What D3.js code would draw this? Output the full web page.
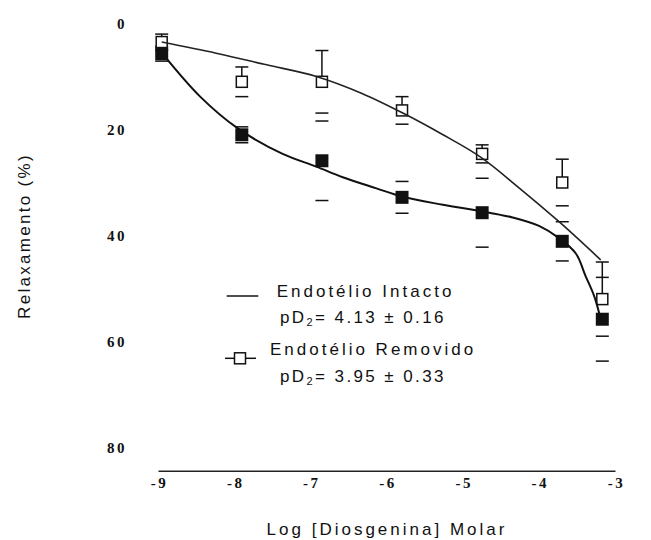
<!DOCTYPE html>
<html>
<head>
<meta charset="utf-8">
<script src="https://cdn.jsdelivr.net/npm/d3@7"></script>
<style>
  body { margin: 0; background: #fff; }
  svg { display: block; }
  .tick-label { font-family: "Liberation Serif", "Times New Roman", serif; font-weight: bold; font-size: 15px; letter-spacing: 2.5px; fill: #111; }
  .label { font-family: "Liberation Sans", Arial, sans-serif; font-size: 17px; fill: #111; }
</style>
</head>
<body>
<svg id="chart" width="651" height="540"></svg>
<script>
// Log molar concentration of diosgenin
const logConc = [-9, -8, -7, -6, -5, -4, -3.5];

// Relaxation (%) mean and SEM, intact endothelium
const intactMean = [5.7, 21.0, 25.9, 32.8, 35.7, 41.1, 55.8];
const intactSem  = [1.4, 1.5, 7.5, 3.0, 6.5, 3.7, 7.9];

// Relaxation (%) mean and SEM, endothelium removed
const removedMean = [3.5, 11.0, 11.0, 16.4, 24.6, 30.0, 52.0];
const removedSem  = [1.5, 2.8, 5.9, 2.6, 1.7, 4.4, 7.0];

// Fitted concentration-response curves
const intactFitX = [-9, -8.52, -8.05, -7.49, -7.07, -6.74, -6.32, -5.99, -5.49, -4.91, -4.62, -4.29, -4.04, -3.83, -3.71, -3.60, -3.52];
const intactFitY = [5.5, 13.8, 19.8, 24.6, 27.0, 29.0, 31.1, 32.7, 34.2, 35.7, 36.6, 38.2, 40.5, 43.4, 47.6, 51.5, 55.8];
const removedFitX = [-9, -8.32, -7.69, -7.07, -6.5, -5.99, -5.5, -5.01, -4.54, -4.04, -3.52];
const removedFitY = [3.5, 5.6, 7.8, 10.0, 13.2, 16.9, 20.9, 25.3, 31.0, 37.4, 44.6];

// Axis ticks and legend text
const xTicks = [-9, -8, -7, -6, -5, -4, -3];
const yTicks = [0, 20, 40, 60, 80];
const seriesNames = ["Endotélio Intacto", "Endotélio Removido"];
const pD2Values = ["4.13 ± 0.16", "3.95 ± 0.33"];

const svg = d3.select("#chart");
const ink = "#111";

// Printed axis scale and plotting scale
const xAxisScale = d3.scaleLinear().domain([-9, -3]).range([158, 615]);
const x = d3.scaleLinear().domain([-9, -3.5]).range([161.7, 602.3]);
const y = d3.scaleLinear().domain([0, 80]).range([23.5, 447.5]);
const axisY = 470.7;
const plainNumber = d => String(d);

// X axis
const xAxis = svg.append("g")
  .attr("transform", `translate(0,${axisY})`)
  .call(d3.axisBottom(xAxisScale).tickValues(xTicks).tickSize(0).tickSizeOuter(0).tickPadding(7).tickFormat(plainNumber));
xAxis.select(".domain").attr("stroke", "#222").attr("stroke-width", 1.6);
xAxis.selectAll("text").attr("class", "tick-label").attr("fill", ink).attr("font-family", null).attr("font-size", null)
  .attr("dx", "1px");

// Y axis labels only (no axis line)
const yAxis = svg.append("g")
  .attr("transform", "translate(127,0)")
  .call(d3.axisLeft(y).tickValues(yTicks).tickSize(0).tickPadding(0).tickFormat(plainNumber));
yAxis.select(".domain").remove();
yAxis.selectAll("text").attr("class", "tick-label").attr("fill", ink).attr("font-family", null).attr("font-size", null);

// Fitted curves
const line = d3.line().curve(d3.curveCatmullRom.alpha(0.5)).x(d => x(d[0])).y(d => y(d[1]));
const intactCurve = intactFitX.map((v, i) => [v, intactFitY[i]]);
const removedCurve = removedFitX.map((v, i) => [v, removedFitY[i]]);

// Error bars
const capW = 13;
function errorCaps(mean, sem, withStem) {
  const g = svg.append("g").attr("stroke", ink).attr("stroke-width", 1.5);
  logConc.forEach((c, i) => {
    const cx = x(c);
    [mean[i] - sem[i], mean[i] + sem[i]].forEach(v => {
      g.append("line").attr("x1", cx - capW / 2).attr("x2", cx + capW / 2)
        .attr("y1", y(v)).attr("y2", y(v));
    });
    if (withStem) {
      g.append("line").attr("x1", cx).attr("x2", cx)
        .attr("y1", y(mean[i])).attr("y2", y(mean[i] - sem[i]));
    }
  });
}
errorCaps(intactMean, intactSem, false);
errorCaps(removedMean, removedSem, true);

// Filled squares: intact endothelium
const fs = 13;
svg.append("g").selectAll("rect").data(logConc).join("rect")
  .attr("x", (d) => x(d) - fs / 2)
  .attr("y", (d, i) => y(intactMean[i]) - fs / 2)
  .attr("width", fs).attr("height", fs).attr("fill", ink);

// Open squares: endothelium removed
const os = 11;
svg.append("g").selectAll("rect").data(logConc).join("rect")
  .attr("x", (d) => x(d) - os / 2)
  .attr("y", (d, i) => y(removedMean[i]) - os / 2)
  .attr("width", os).attr("height", os)
  .attr("fill", "#fff").attr("stroke", ink).attr("stroke-width", 1.5);

svg.append("path").datum(removedCurve).attr("d", line)
  .attr("fill", "none").attr("stroke", "#222").attr("stroke-width", 1.6);
svg.append("path").datum(intactCurve).attr("d", line)
  .attr("fill", "none").attr("stroke", "#111").attr("stroke-width", 2);

// Legend
const legend = svg.append("g").attr("class", "label");
legend.append("line").attr("x1", 226.7).attr("x2", 258.3).attr("y1", 296).attr("y2", 296)
  .attr("stroke", ink).attr("stroke-width", 1.5);
legend.append("line").attr("x1", 225).attr("x2", 256).attr("y1", 358.3).attr("y2", 358.3)
  .attr("stroke", ink).attr("stroke-width", 1.5);
legend.append("rect").attr("x", 234.5).attr("y", 352.8).attr("width", 11).attr("height", 11)
  .attr("fill", "#fff").attr("stroke", ink).attr("stroke-width", 1.5);

const legendRows = [
  { name: seriesNames[0], pd: pD2Values[0], nx: 276.7, ny: 296.7, py: 323.3 },
  { name: seriesNames[1], pd: pD2Values[1], nx: 270, ny: 355, py: 381.7 }
];
legendRows.forEach(r => {
  legend.append("text").attr("x", r.nx).attr("y", r.ny)
    .attr("letter-spacing", "3px").text(r.name);
  const t = legend.append("text").attr("x", 280).attr("y", r.py).attr("letter-spacing", "2.4px");
  t.append("tspan").text("pD");
  t.append("tspan").attr("font-size", "11px").attr("dy", 3).text("2");
  t.append("tspan").attr("dy", -3).text("= " + r.pd);
});

// Axis titles
svg.append("text").attr("class", "label")
  .attr("x", 387).attr("y", 535).attr("text-anchor", "middle")
  .attr("letter-spacing", "3px").text("Log [Diosgenina] Molar");
svg.append("text").attr("class", "label")
  .attr("transform", "translate(30,236) rotate(-90)").attr("text-anchor", "middle")
  .attr("letter-spacing", "2.3px").text("Relaxamento (%)");
</script>
</body>
</html>
